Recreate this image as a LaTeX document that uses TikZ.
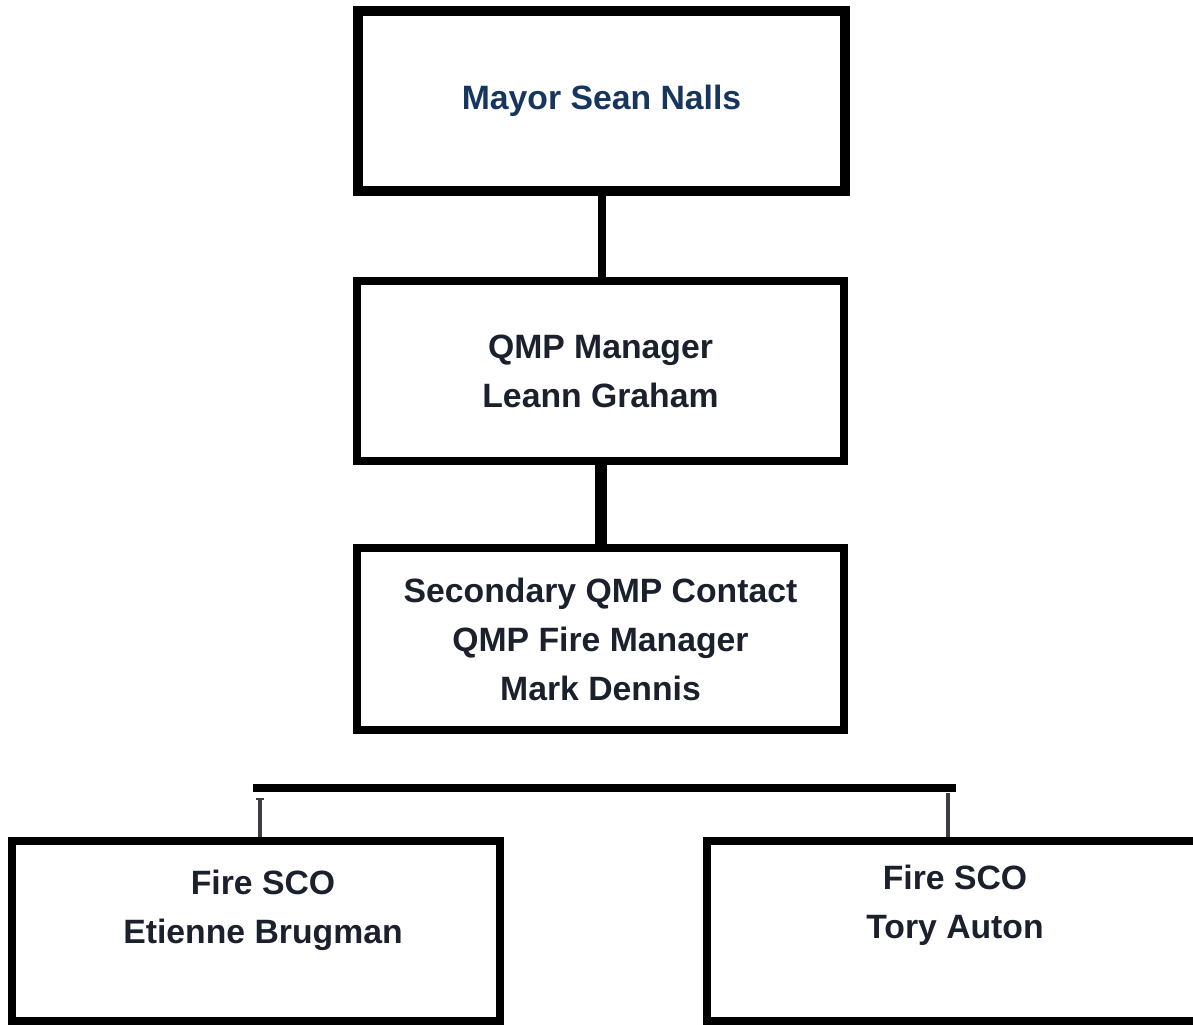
\documentclass[tikz,border=0pt]{standalone}
\usepackage{fontspec}
\setmainfont{Liberation Sans}

\definecolor{mayorblue}{RGB}{23,54,93}
\definecolor{namedark}{RGB}{26,32,44}
\definecolor{tickgray}{RGB}{60,60,66}

\tikzset{
  orgbox/.style={draw, line width=0.16cm, minimum width=9.74cm, minimum height=3.6cm,
    align=center, text=namedark, font=\bfseries\fontsize{19.2}{27.9}\selectfont},
  orgtext/.style={align=center, text=namedark, font=\bfseries\fontsize{19.2}{27.9}\selectfont},
  link/.style={line width=0.16cm},
  tick/.style={line width=0.08cm, draw=tickgray}
}

\begin{document}
\begin{tikzpicture}
  \useasboundingbox (0,0) rectangle (23.86,20.48);

  \node[orgbox, line width=0.2cm, text=mayorblue] (mayor) at (12.03,18.46) {Mayor Sean Nalls};
  \node[orgbox] (qmp) at (12.01,13.06) {QMP Manager\\Leann Graham};
  \node[orgbox, minimum height=3.64cm] (firemgr) at (12.01,7.70)
  {Secondary QMP Contact\\QMP Fire Manager\\Mark Dennis};
  \node[orgbox] (scoleft) at (5.12,1.86) {};
  \node[orgbox, minimum width=9.84cm] (scoright) at (19.05,1.86) {};
  \node[orgtext] (etienne) at (5.26,2.28) {Fire SCO\\Etienne Brugman};
  \node[orgtext] (tory) at (19.1,2.38) {Fire SCO\\Tory Auton};

  \coordinate (barL) at (5.06,4.72);
  \coordinate (barR) at (19.12,4.72);
  \coordinate (tickL) at (5.2,4.50);
  \coordinate (tickR) at (18.96,4.62);

  \draw[link] (mayor.south) -- (mayor.south |- qmp.north);
  \draw[link, line width=0.24cm] (qmp.south) -- (qmp.south |- firemgr.north);
  \draw[link] (barL) -- (barR);
  \draw[tick] (tickL) -- (tickL |- scoleft.north);
  \draw[tick, line width=0.05cm] (tickL) ++(-0.08,0) -- ++(0.16,0);
  \draw[tick] (tickR) -- (tickR |- scoright.north);

\end{tikzpicture}
\end{document}
